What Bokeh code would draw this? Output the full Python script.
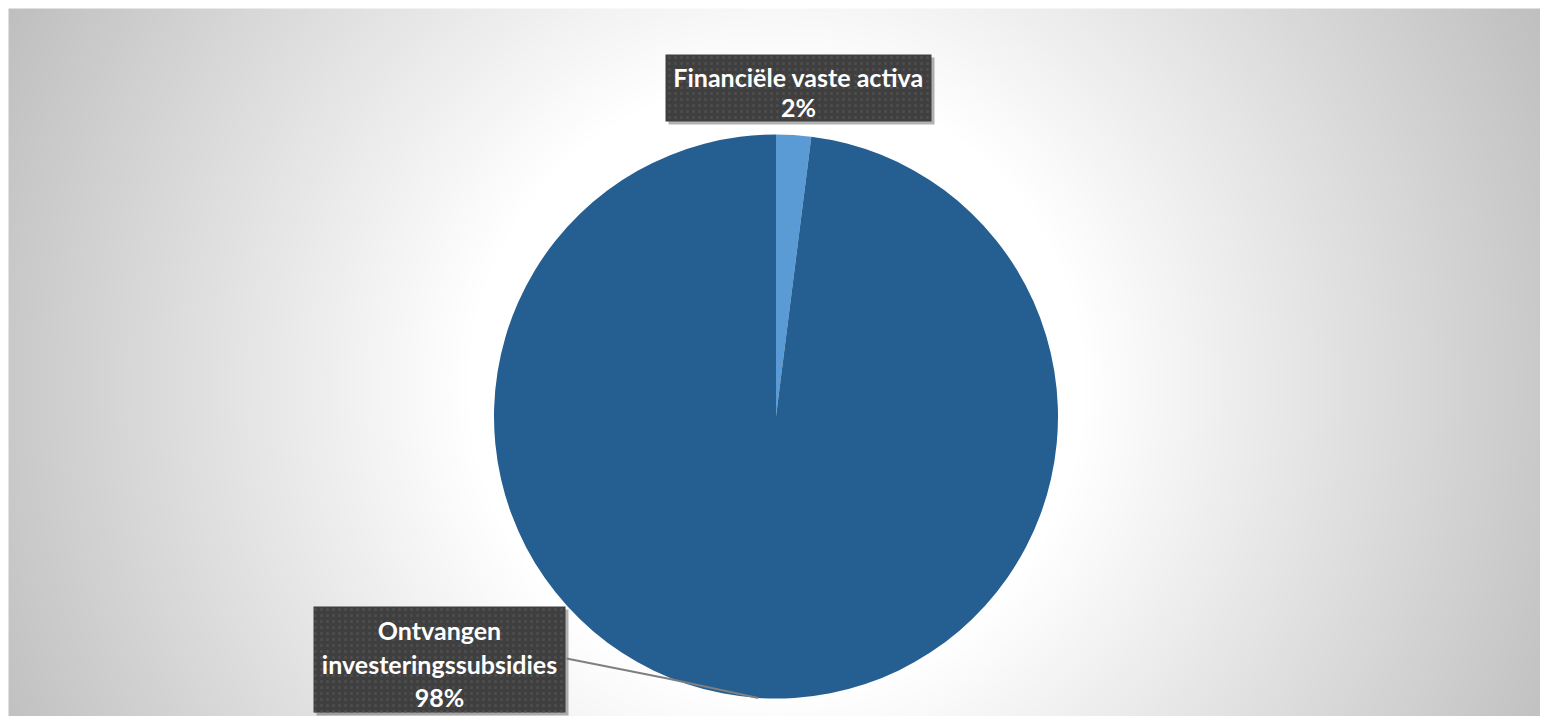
import numpy as np
from bokeh.plotting import figure
from bokeh.models import Range1d, ColumnDataSource
from bokeh.core.properties import value
from bokeh.embed import file_html
from bokeh.resources import INLINE

# ---- data ----
categories = ["Financiële vaste activa", "Ontvangen investeringssubsidies"]
values = [2, 98]
colors = ["#5B9BD5", "#255E91"]

W, H = 1540, 716
OX, OY = 0, 0  # page offset of the figure


def X(xi):
    return xi - OX


def Y(yi):
    return (H + OY) - yi


p = figure(width=W, height=H, output_backend="svg", toolbar_location=None,
           x_range=Range1d(0, W), y_range=Range1d(0, H), min_border=0,
           match_aspect=False)
p.axis.visible = False
p.grid.visible = False
p.outline_line_color = None
p.background_fill_color = "#ffffff"
p.border_fill_color = "#ffffff"

# ---- background radial gradient ----
rows, cols = H // 2, W // 2
jj, ii = np.mgrid[0:rows, 0:cols]
ximg = ii * (W / cols) + OX
yimg = (H + OY) - (jj + 1) * (H / rows)
r = np.sqrt((ximg - 775) ** 2 + (yimg - 385) ** 2)
g = 255 - np.clip(r - 310, 0, None) * 0.117
g = np.clip(g, 185, 255)
g[(ximg < 7) | (yimg < 8)] = 255
g = g.astype(np.uint32)
img = (255 << 24) | (g << 16) | (g << 8) | g
p.image_rgba(image=[img.astype(np.uint32)], x=0, y=0, dw=W, dh=H)

# ---- pie ----
cx, cy, R = 775.5, 416, 282
total = float(sum(values))
fracs = [v / total for v in values]
starts, ends = [], []
acc = 0.0
for f in fracs:
    starts.append(np.pi / 2 - 2 * np.pi * acc)
    acc += f
    ends.append(np.pi / 2 - 2 * np.pi * acc)
src = ColumnDataSource(dict(start=starts, end=ends, color=colors))
p.wedge(x=X(cx), y=Y(cy), radius=R, start_angle="start", end_angle="end",
        direction="clock", fill_color="color", line_color=None, source=src)

# ---- labels ----
font = value("Lato")
fs = "25px"


def label_box(x0, x1, y0, y1, lines, line_ys):
    # shadow
    p.quad(left=X(x0) + 3, right=X(x1) + 3, top=Y(y0) - 3, bottom=Y(y1) - 3,
           fill_color="#000000", fill_alpha=0.3, line_color=None)
    p.quad(left=X(x0), right=X(x1), top=Y(y0), bottom=Y(y1),
           fill_color="#3F3F3F", line_color=None,
           hatch_pattern="dot", hatch_color="#4E4E4E", hatch_scale=6, hatch_weight=1)
    for t, ly in zip(lines, line_ys):
        p.text(x=[X((x0 + x1) / 2)], y=[Y(ly)], text=[t], text_font=font,
               text_font_style="bold", text_font_size=fs, text_color="#FFFFFF",
               text_align="center", text_baseline="middle")


pct = [f"{round(f * 100)}%" for f in fracs]

label_box(665, 931, 54, 121, [categories[0], pct[0]], [76, 106])
label_box(313, 565, 606, 712, ["Ontvangen", "investeringssubsidies", pct[1]], [629, 663, 696])

# leader line for the large slice
mid = 2 * np.pi * (fracs[0] + fracs[1] / 2)
ex = cx + R * np.sin(mid)
ey = cy - R * np.cos(mid)
p.line(x=[X(566), X(667), X(ex)], y=[Y(658), Y(678), Y(ey)],
       line_color="#7F7F7F", line_width=2)

open("out.html", "w").write(file_html(p, INLINE))
